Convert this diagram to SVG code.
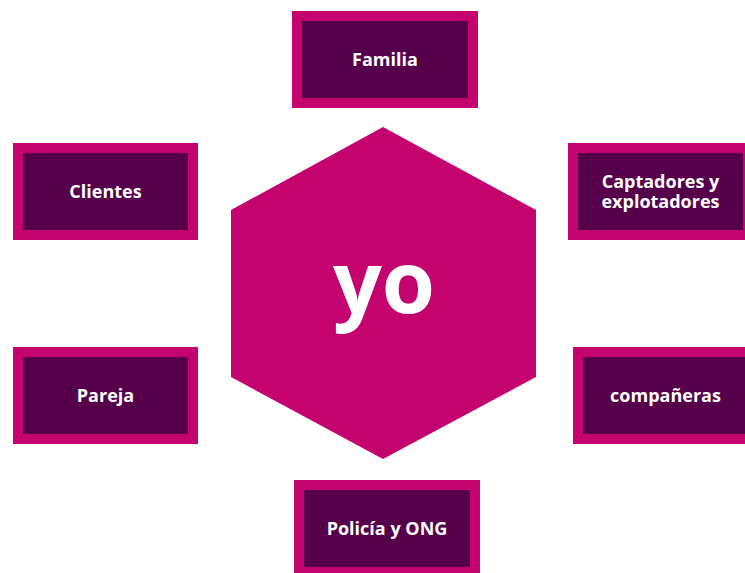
<svg xmlns="http://www.w3.org/2000/svg" width="745" height="573" viewBox="0 0 745 573">
<style>
.outer{fill:#C4036F}
.inner{fill:#56004B}
.lbl{font-family:"Open Sans","Liberation Sans",sans-serif;font-weight:bold;font-size:18px;fill:#FFFFFF;text-anchor:middle}
.yo{font-family:"Open Sans","Liberation Sans",sans-serif;font-weight:bold;font-size:86px;fill:#FFFFFF;text-anchor:middle}
</style>
<rect width="745" height="573" fill="#FFFFFF"/>
<g id="connectors"/>
<g id="yo">
<polygon class="outer" points="383,127 536,210 536,377 383,459 231,377 231,210"/>
<text class="yo" x="384" y="313">yo</text>
</g>
<g id="familia">
<rect class="outer" x="292" y="11" width="186" height="97"/>
<rect class="inner" x="302" y="21" width="166" height="77"/>
<text class="lbl" x="385" y="66">Familia</text>
</g>
<g id="clientes">
<rect class="outer" x="13" y="143" width="185" height="97"/>
<rect class="inner" x="23" y="153" width="165" height="77"/>
<text class="lbl" x="105.5" y="198">Clientes</text>
</g>
<g id="captadores">
<rect class="outer" x="568" y="143" width="185" height="97"/>
<rect class="inner" x="578" y="153" width="165" height="77"/>
<text class="lbl" x="660.5" y="188">Captadores y<tspan x="660.5" dy="20">explotadores</tspan></text>
</g>
<g id="pareja">
<rect class="outer" x="13" y="347" width="185" height="97"/>
<rect class="inner" x="23" y="357" width="165" height="77"/>
<text class="lbl" x="105.5" y="402">Pareja</text>
</g>
<g id="companeras">
<rect class="outer" x="573" y="347" width="185" height="97"/>
<rect class="inner" x="583" y="357" width="165" height="77"/>
<text class="lbl" x="665.5" y="402">compañeras</text>
</g>
<g id="policia">
<rect class="outer" x="294" y="480" width="186" height="97"/>
<rect class="inner" x="304" y="490" width="166" height="77"/>
<text class="lbl" x="387" y="535">Policía y ONG</text>
</g>
</svg>
